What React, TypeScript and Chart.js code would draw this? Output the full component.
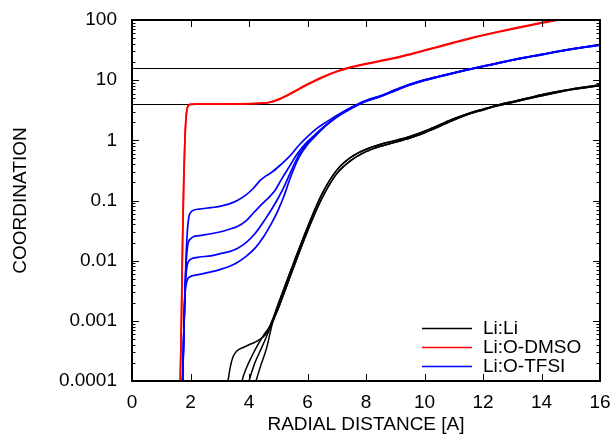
import { useEffect, useRef } from "react";
import { Chart, registerables } from "chart.js";

Chart.register(...registerables);

const FONT_FAMILY = '"Liberation Sans", Arial, Helvetica, sans-serif';

// Axis ticks
const X_TICK_STEP = 2;
const Y_TICK_VALUES = [0.0001, 0.001, 0.01, 0.1, 1, 10, 100];
const Y_TICK_LABELS = ["0.0001", "0.001", "0.01", "0.1", "1", "10", "100"];
const MINOR_MULTIPLIERS = [2, 3, 4, 5, 6, 7, 8, 9];

// Reference levels (horizontal lines)
const REF_LEVELS = [4, 16];

// Legend
const LEGEND_LABELS = ["Li:Li", "Li:O-DMSO", "Li:O-TFSI"];
const LEGEND_COLORS = ["#000000", "#ff0000", "#0000ff"];

// Li:O-DMSO (red)
const RED_X = [1.6, 1.65, 1.69, 1.73, 1.77, 1.81, 1.85, 1.89, 1.94, 2.0, 2.2, 2.6, 3.0, 3.5, 4.0, 4.4, 4.7, 5.0, 5.3, 5.6, 6.0, 6.5, 7.0, 7.5, 8.0, 8.5, 9.0, 9.5, 10.0, 10.5, 11.0, 11.5, 12.0, 12.5, 13.0, 13.5, 14.0, 14.5, 15.0];
const RED_A = [0.00003, 0.0001, 0.001, 0.02, 0.2, 1.0, 2.4, 3.4, 3.85, 3.95, 3.98, 4.0, 4.0, 4.02, 4.05, 4.12, 4.25, 4.7, 5.5, 6.6, 8.4, 11.0, 13.8, 16.3, 18.4, 20.6, 23.2, 26.6, 30.8, 35.8, 41.6, 48.2, 55.2, 62.6, 70.6, 79.2, 88.6, 98.6, 109.0];
const RED_B = [0.00003, 0.0001, 0.0012, 0.025, 0.25, 1.1, 2.5, 3.45, 3.87, 3.96, 3.99, 4.0, 4.01, 4.03, 4.07, 4.15, 4.3, 4.8, 5.6, 6.75, 8.6, 11.3, 14.1, 16.6, 18.8, 21.1, 23.7, 27.2, 31.5, 36.6, 42.5, 49.2, 56.3, 63.8, 72.0, 80.8, 90.4, 100.5, 111.0];

// Li:O-TFSI (blue), low-distance parts
const BLUE1_X = [1.68, 1.73, 1.77, 1.81, 1.85, 1.89, 1.94, 2.0, 2.1, 2.3, 2.7, 3.0, 3.3, 3.6, 3.9, 4.15, 4.4, 4.6, 4.8, 5.1, 5.4, 5.7, 6.0, 6.3, 6.6, 7.0, 7.5];
const BLUE1_Y = [0.00004, 0.0001, 0.0006, 0.003, 0.012, 0.03, 0.052, 0.063, 0.069, 0.072, 0.076, 0.08, 0.087, 0.1, 0.124, 0.16, 0.22, 0.26, 0.3, 0.4, 0.55, 0.82, 1.15, 1.55, 1.95, 2.6, 3.55];
const BLUE2_X = [1.68, 1.73, 1.77, 1.81, 1.85, 1.89, 1.94, 2.0, 2.1, 2.3, 2.7, 3.0, 3.3, 3.6, 3.9, 4.15, 4.45, 4.7, 4.9, 5.1, 5.37, 5.6, 5.83, 6.0, 6.3, 6.6, 7.0, 7.5];
const BLUE2_Y = [0.00004, 0.0001, 0.0006, 0.003, 0.009, 0.016, 0.021, 0.023, 0.025, 0.026, 0.028, 0.03, 0.033, 0.037, 0.046, 0.062, 0.088, 0.115, 0.15, 0.22, 0.36, 0.55, 0.77, 0.95, 1.3, 1.75, 2.5, 3.5];
const BLUE3_X = [1.68, 1.73, 1.77, 1.81, 1.85, 1.89, 1.94, 2.0, 2.1, 2.3, 2.7, 3.0, 3.3, 3.6, 3.9, 4.2, 4.57, 4.8, 5.0, 5.2, 5.4, 5.71, 6.0, 6.3, 6.6, 7.0, 7.5];
const BLUE3_Y = [0.00004, 0.0001, 0.0006, 0.003, 0.006, 0.0085, 0.0098, 0.0105, 0.011, 0.0115, 0.012, 0.013, 0.014, 0.016, 0.02, 0.028, 0.05, 0.075, 0.11, 0.17, 0.28, 0.58, 0.9, 1.25, 1.72, 2.45, 3.42];
const BLUE4_X = [1.68, 1.73, 1.77, 1.81, 1.85, 1.9, 1.96, 2.06, 2.3, 2.7, 3.0, 3.3, 3.6, 3.9, 4.2, 4.5, 4.75, 5.0, 5.2, 5.4, 5.71, 6.0, 6.3, 6.6, 7.0, 7.5];
const BLUE4_Y = [0.00004, 0.0001, 0.0006, 0.0025, 0.004, 0.0049, 0.0053, 0.0056, 0.0059, 0.0065, 0.0071, 0.0079, 0.0093, 0.0118, 0.016, 0.025, 0.04, 0.07, 0.12, 0.23, 0.52, 0.85, 1.22, 1.7, 2.42, 3.38];
// Li:O-TFSI (blue), merged long-distance part
const BLUE_TAIL_X = [8.0, 8.5, 9.0, 9.5, 10.0, 10.5, 11.0, 11.5, 12.0, 12.5, 13.0, 13.5, 14.0, 14.5, 15.0, 15.5, 16.0];
const BLUE_TAIL_HI = [4.6, 5.5, 6.9, 8.5, 10.1, 11.6, 13.3, 15.1, 17.1, 19.2, 21.7, 24.2, 26.8, 29.8, 32.8, 35.8, 38.8];
const BLUE_TAIL_LO = [4.45, 5.35, 6.7, 8.3, 9.9, 11.4, 13.1, 14.9, 16.9, 19.0, 21.4, 23.9, 26.4, 29.4, 32.4, 35.4, 38.2];

// Li:Li (black), onsets
const BLACK1_X = [3.2, 3.28, 3.36, 3.45, 3.6, 3.8, 4.0, 4.2, 4.4, 4.6, 4.8];
const BLACK1_Y = [0.00006, 0.0001, 0.00017, 0.00025, 0.00032, 0.00036, 0.0004, 0.00044, 0.0005, 0.00062, 0.001];
const BLACK2_X = [3.7, 3.76, 3.9, 4.1, 4.3, 4.5, 4.7];
const BLACK2_Y = [0.00007, 0.0001, 0.00016, 0.00026, 0.0004, 0.00058, 0.0008];
const BLACK3_X = [3.92, 4.0, 4.2, 4.4, 4.6, 4.8];
const BLACK3_Y = [0.00007, 0.0001, 0.0002, 0.00033, 0.00055, 0.00095];
const BLACK4_X = [4.15, 4.24, 4.4, 4.6, 4.8];
const BLACK4_Y = [0.00007, 0.0001, 0.00018, 0.00035, 0.0009];
// Li:Li (black), long-distance part
const BLACK_TAIL_X = [5.0, 5.5, 6.0, 6.5, 7.0, 7.5, 8.0, 8.5, 9.0, 9.5, 10.0, 10.5, 11.0, 11.5, 12.0, 12.5, 13.0, 13.5, 14.0, 14.5, 15.0, 15.5, 16.0];
const BLACK_TAIL_HI = [0.0019, 0.0085, 0.036, 0.13, 0.32, 0.53, 0.71, 0.86, 0.99, 1.16, 1.42, 1.8, 2.28, 2.8, 3.3, 3.85, 4.4, 5.0, 5.7, 6.4, 7.1, 7.7, 8.4];
const BLACK_TAIL_LO = [0.0016, 0.0072, 0.031, 0.11, 0.28, 0.47, 0.65, 0.8, 0.93, 1.09, 1.34, 1.7, 2.18, 2.7, 3.2, 3.75, 4.25, 4.85, 5.5, 6.2, 6.9, 7.5, 8.2];

// Target plot frame in page pixels
const AREA = { left: 132, top: 20, right: 600, bottom: 381 };

type Pt = { x: number; y: number };
const zip = (xs: number[], ys: number[]): Pt[] => xs.map((x, i) => ({ x, y: ys[i] }));

const refLinesPlugin = {
  id: "refLines",
  beforeDatasetsDraw(chart: any) {
    const { ctx, chartArea, scales } = chart;
    ctx.save();
    ctx.strokeStyle = "#000";
    ctx.lineWidth = 1;
    ctx.beginPath();
    REF_LEVELS.forEach((lv) => {
      const py = Math.round(scales.y.getPixelForValue(lv)) + 0.5;
      ctx.moveTo(chartArea.left, py);
      ctx.lineTo(chartArea.right, py);
    });
    ctx.stroke();
    ctx.restore();
  },
};

const framePlugin = {
  id: "frameTicks",
  afterDatasetsDraw(chart: any) {
    const { ctx, chartArea, scales } = chart;
    const { left, right, top, bottom } = chartArea;
    const xs = scales.x;
    const ys = scales.y;
    ctx.save();
    ctx.strokeStyle = "#000";
    ctx.lineWidth = 1;
    ctx.beginPath();
    xs.ticks.forEach((t: any) => {
      const px = Math.round(xs.getPixelForValue(t.value)) + 0.5;
      ctx.moveTo(px, bottom);
      ctx.lineTo(px, bottom - 7);
      ctx.moveTo(px, top);
      ctx.lineTo(px, top + 7);
    });
    Y_TICK_VALUES.forEach((v, i) => {
      const py = Math.round(ys.getPixelForValue(v)) + 0.5;
      ctx.moveTo(left, py);
      ctx.lineTo(left + 7, py);
      ctx.moveTo(right, py);
      ctx.lineTo(right - 7, py);
      if (i < Y_TICK_VALUES.length - 1) {
        MINOR_MULTIPLIERS.forEach((m) => {
          const mp = Math.round(ys.getPixelForValue(v * m)) + 0.5;
          ctx.moveTo(left, mp);
          ctx.lineTo(left + 3.5, mp);
          ctx.moveTo(right, mp);
          ctx.lineTo(right - 3.5, mp);
        });
      }
    });
    ctx.stroke();
    ctx.lineWidth = 2;
    ctx.strokeRect(left, top, right - left, bottom - top);
    ctx.restore();
  },
};

const legendPlugin = {
  id: "cornerLegend",
  afterDraw(chart: any) {
    const { ctx, chartArea } = chart;
    const { right, bottom } = chartArea;
    ctx.save();
    ctx.font = `19px ${FONT_FAMILY}`;
    ctx.textBaseline = "middle";
    ctx.textAlign = "left";
    LEGEND_LABELS.forEach((label, i) => {
      const y = Math.round(bottom - 53 + i * 19) + 0.5;
      ctx.strokeStyle = LEGEND_COLORS[i];
      ctx.lineWidth = 1.5;
      ctx.beginPath();
      ctx.moveTo(right - 178, y);
      ctx.lineTo(right - 128, y);
      ctx.stroke();
      ctx.fillStyle = "#000";
      ctx.fillText(label, right - 117, y);
    });
    ctx.restore();
  },
};

export default function App() {
  const canvasRef = useRef<HTMLCanvasElement | null>(null);

  useEffect(() => {
    document.body.style.margin = "0";
    const canvas = canvasRef.current;
    if (!canvas) return;

    const line = (data: Pt[], color: string, width: number) => ({
      data,
      borderColor: color,
      backgroundColor: color,
      borderWidth: width,
      pointRadius: 0,
      fill: false,
      cubicInterpolationMode: "monotone" as const,
    });

    const datasets: any[] = [
      line(zip(BLACK1_X.concat(BLACK_TAIL_X), BLACK1_Y.concat(BLACK_TAIL_HI)), LEGEND_COLORS[0], 1.5),
      line(zip(BLACK2_X.concat(BLACK_TAIL_X), BLACK2_Y.concat(BLACK_TAIL_HI)), LEGEND_COLORS[0], 1.5),
      line(zip(BLACK3_X.concat(BLACK_TAIL_X), BLACK3_Y.concat(BLACK_TAIL_LO)), LEGEND_COLORS[0], 1.5),
      line(zip(BLACK4_X.concat(BLACK_TAIL_X), BLACK4_Y.concat(BLACK_TAIL_LO)), LEGEND_COLORS[0], 1.5),
      line(zip(RED_X, RED_A), LEGEND_COLORS[1], 1.7),
      line(zip(RED_X, RED_B), LEGEND_COLORS[1], 1.7),
      line(zip(BLUE1_X.concat(BLUE_TAIL_X), BLUE1_Y.concat(BLUE_TAIL_HI)), LEGEND_COLORS[2], 1.7),
      line(zip(BLUE2_X.concat(BLUE_TAIL_X), BLUE2_Y.concat(BLUE_TAIL_HI)), LEGEND_COLORS[2], 1.7),
      line(zip(BLUE3_X.concat(BLUE_TAIL_X), BLUE3_Y.concat(BLUE_TAIL_LO)), LEGEND_COLORS[2], 1.7),
      line(zip(BLUE4_X.concat(BLUE_TAIL_X), BLUE4_Y.concat(BLUE_TAIL_LO)), LEGEND_COLORS[2], 1.7),
    ];

    const tickFont = { family: FONT_FAMILY, size: 19 };

    const chart = new Chart(canvas, {
      type: "line",
      data: { datasets },
      plugins: [refLinesPlugin, framePlugin, legendPlugin],
      options: {
        animation: false,
        responsive: false,
        maintainAspectRatio: false,
        devicePixelRatio: 1,
        layout: { padding: { left: 0, top: AREA.top, right: 616 - AREA.right, bottom: 0 } },
        plugins: {
          legend: { display: false },
          tooltip: { enabled: false },
        },
        scales: {
          x: {
            type: "linear",
            min: 0,
            max: 16,
            // label gap comes from tickLength (not counted in edge padding)
            grid: { display: false, drawTicks: true, tickLength: 10 },
            border: { display: false },
            ticks: {
              stepSize: X_TICK_STEP,
              color: "#000",
              font: tickFont,
              padding: 0,
              maxRotation: 0,
              autoSkip: false,
            },
            title: {
              display: true,
              text: "RADIAL DISTANCE [A]",
              color: "#000",
              font: { family: FONT_FAMILY, size: 19 },
              padding: { top: 0, bottom: 3 },
            },
            afterFit: (scale: any) => {
              scale.height = 439 - AREA.bottom;
            },
          },
          y: {
            type: "logarithmic",
            min: 0.0001,
            max: 100,
            grid: { display: false, drawTicks: true, tickLength: 15 },
            border: { display: false },
            afterBuildTicks: (scale: any) => {
              scale.ticks = Y_TICK_VALUES.map((v) => ({ value: v, major: true }));
            },
            ticks: {
              color: "#000",
              font: tickFont,
              padding: 0,
              autoSkip: false,
              callback: (_v: any, i: number) => Y_TICK_LABELS[i],
            },
            title: {
              display: true,
              text: "COORDINATION",
              color: "#000",
              font: { family: FONT_FAMILY, size: 19 },
              padding: { top: 9, bottom: 0 },
            },
            afterFit: (scale: any) => {
              scale.width = AREA.left;
            },
          },
        },
      },
    });

    return () => {
      chart.destroy();
    };
  }, []);

  return (
    <div style={{ width: 616, height: 439 }}>
      <canvas ref={canvasRef} width={616} height={439} style={{ display: "block" }} />
    </div>
  );
}
